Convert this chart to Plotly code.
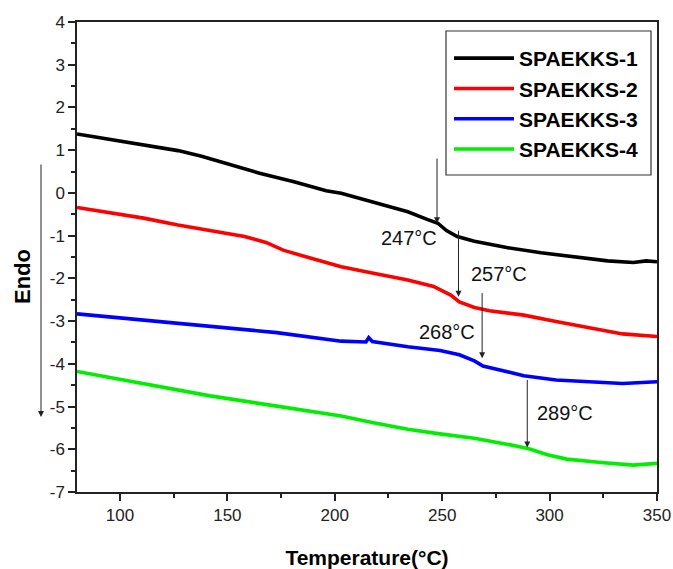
import plotly.graph_objects as go

# ---- data ----
series_names = ["SPAEKKS-1", "SPAEKKS-2", "SPAEKKS-3", "SPAEKKS-4"]

t1 = [80, 95, 111, 127, 138, 150, 165, 181, 196, 203, 218, 234, 243, 248, 252, 257, 265, 280, 296, 311, 327, 339, 345, 350]
h1 = [1.38, 1.25, 1.12, 0.99, 0.86, 0.69, 0.46, 0.26, 0.05, -0.01, -0.21, -0.44, -0.62, -0.71, -0.88, -1.02, -1.13, -1.28, -1.40, -1.49, -1.59, -1.63, -1.59, -1.61]

t2 = [80, 95, 111, 127, 142, 158, 168, 176, 189, 203, 218, 234, 246, 254, 258, 265, 272, 288, 303, 319, 334, 350]
h2 = [-0.34, -0.46, -0.59, -0.75, -0.89, -1.02, -1.16, -1.34, -1.53, -1.73, -1.88, -2.04, -2.19, -2.39, -2.55, -2.68, -2.76, -2.86, -3.01, -3.17, -3.30, -3.36]

t3 = [80, 111, 142, 173, 203, 214.5, 215.8, 217.5, 234, 249, 258, 265, 269, 276, 288, 303, 319, 334, 350]
h3 = [-2.83, -2.97, -3.11, -3.27, -3.47, -3.49, -3.39, -3.48, -3.60, -3.69, -3.79, -3.93, -4.05, -4.14, -4.28, -4.38, -4.42, -4.46, -4.42]

t4 = [80, 111, 142, 173, 203, 218, 234, 249, 265, 280, 290, 299, 308, 324, 339, 350]
h4 = [-4.18, -4.46, -4.75, -4.99, -5.22, -5.38, -5.53, -5.64, -5.74, -5.88, -5.98, -6.13, -6.23, -6.31, -6.37, -6.33]

# transition temperatures (Tg) and arrow extents
tg_values = [247, 257, 268, 289]
arrow_top = [0.84, -0.85, -2.31, -4.34]
arrow_tip = [-0.71, -2.43, -3.87, -5.96]

# tick labels
x_ticks = [100, 150, 200, 250, 300, 350]
y_ticks = [-7, -6, -5, -4, -3, -2, -1, 0, 1, 2, 3, 4]
y_ticklabels = ["-7", "-6", "-5", "-4", "-3", "-2", "-1", "0", "1", "2", "3", "4"]

colors = ["#000000", "#ff0000", "#0000ff", "#00ee00"]

FONT = "Arial, 'Liberation Sans', sans-serif"

W, H = 673, 569
PL, PR, PT, PB = 77, 16, 22, 77   # plot area: x 77..657, y 22..492
PW = W - PL - PR
PH = H - PT - PB


def px(xw):  # page x -> paper
    return (xw - PL) / PW


def py(yw):  # page y -> paper
    return (H - PB - yw) / PH


fig = go.Figure()
for name, t, h, c in zip(series_names, [t1, t2, t3, t4], [h1, h2, h3, h4], colors):
    fig.add_trace(go.Scatter(x=t, y=h, mode="lines", name=name,
                             line=dict(color=c, width=3.6)))

# Tg arrows + labels
label_pos = [  # (x, y, xanchor)
    (248.5, -1.06, "right"),
    (262.5, -1.90, "left"),
    (266.0, -3.25, "right"),
    (293.0, -5.16, "left"),
]
for tg, top, tip, (lx, ly, xa) in zip(tg_values, arrow_top, arrow_tip, label_pos):
    fig.add_annotation(x=tg + 0.6, y=tip, ax=tg + 0.6, ay=top, xref="x", yref="y",
                       axref="x", ayref="y", text="", showarrow=True,
                       arrowhead=2, arrowsize=1.2, arrowwidth=1, arrowcolor="#222")
    fig.add_annotation(x=lx, y=ly, xref="x", yref="y", text=f"{tg}°C",
                       showarrow=False, xanchor=xa, yanchor="middle",
                       font=dict(family=FONT, size=20, color="#111"))

# Y title "Endo" and its downward arrow
fig.add_annotation(x=px(22), y=py(277), xref="paper", yref="paper", text="<b>Endo</b>",
                   textangle=-90, showarrow=False, xanchor="center", yanchor="middle",
                   font=dict(family=FONT, size=22, color="#000"))
fig.add_annotation(x=px(41), y=py(417), xref="paper", yref="paper", text="",
                   showarrow=True, ax=0, ay=-254, arrowhead=2, arrowsize=1.2,
                   arrowwidth=1, arrowcolor="#222")

# legend box
fig.add_shape(type="rect", xref="paper", yref="paper",
              x0=px(446), x1=px(651), y0=py(175), y1=py(31),
              line=dict(color="#333", width=1.2), fillcolor="rgba(0,0,0,0)")

axis_common = dict(showline=True, linecolor="#222", linewidth=1.5, mirror=True,
                   ticks="outside", ticklen=7, tickwidth=1.5, tickcolor="#222",
                   showgrid=False, zeroline=False,
                   tickfont=dict(family=FONT, size=17, color="#222"))

fig.update_layout(
    width=W, height=H,
    margin=dict(l=PL, r=PR, t=PT, b=PB, autoexpand=False),
    paper_bgcolor="white", plot_bgcolor="white",
    font=dict(family=FONT),
    xaxis=dict(range=[80, 350], tickvals=x_ticks,
               minor=dict(dtick=25, tick0=0, ticks="outside", ticklen=4, tickwidth=1.5, tickcolor="#222"),
               title=dict(text="<b>Temperature(°C)</b>", font=dict(family=FONT, size=21, color="#000"),
                          standoff=26),
               **axis_common),
    yaxis=dict(range=[-7, 4], tickvals=y_ticks, ticktext=y_ticklabels,
               minor=dict(dtick=0.5, tick0=0, ticks="outside", ticklen=4, tickwidth=1.5, tickcolor="#222"),
               **axis_common),
    legend=dict(x=px(449), y=py(38), xanchor="left", yanchor="top",
                bgcolor="rgba(0,0,0,0)", borderwidth=0, itemwidth=60,
                font=dict(family=FONT, size=21, color="#000", weight="bold")),
    showlegend=True,
)

fig.write_html("out.html", config={"displayModeBar": False},
               post_script="document.body.style.margin='0';document.body.style.overflow='hidden';")
